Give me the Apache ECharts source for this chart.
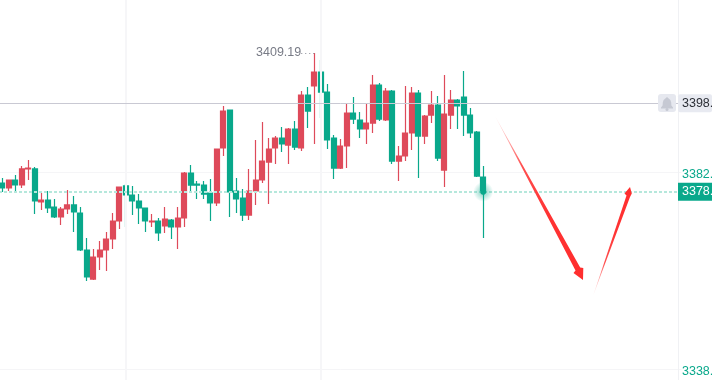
<!DOCTYPE html>
<html>
<head>
<meta charset="utf-8">
<style>
  html, body { margin: 0; padding: 0; background: #fff; overflow: hidden; }
  #chart { width: 712px; height: 380px; }
</style>
<script src="https://cdn.jsdelivr.net/npm/echarts@6/dist/echarts.min.js"></script>
</head>
<body>
<div id="chart"></div>
<script>
const opens = [
  3379.98, 3378.86, 3380.65, 3379.53, 3383.13, 3383.13, 3375.71, 3376.16, 3374.59, 3372.34,
  3374.14, 3375.04, 3373.24, 3364.92, 3358.40, 3363.35, 3364.92, 3367.39, 3371.44, 3379.31,
  3377.28, 3375.93, 3374.36, 3371.21, 3371.44, 3370.32, 3371.66, 3370.09, 3372.11, 3382.22,
  3379.75, 3379.52, 3377.73, 3375.48, 3387.84, 3396.38, 3378.18, 3376.60, 3372.78, 3378.18,
  3380.65, 3384.69, 3387.84, 3390.09, 3388.51, 3392.11, 3387.84, 3399.75, 3401.77, 3404.92,
  3400.42, 3390.08, 3383.34, 3388.29, 3395.70, 3394.13, 3392.11, 3393.45, 3401.99, 3394.13,
  3400.65, 3384.91, 3386.04, 3391.21, 3400.20, 3390.53, 3395.25, 3397.50, 3382.89, 3395.25,
  3398.62, 3399.30, 3395.25, 3391.43, 3381.32
]
const closes = [
  3378.86, 3380.65, 3379.53, 3383.13, 3383.35, 3375.93, 3376.16, 3374.36, 3372.34, 3374.14,
  3375.04, 3373.46, 3364.92, 3358.85, 3363.35, 3364.92, 3367.39, 3371.44, 3379.08, 3377.28,
  3375.93, 3374.36, 3371.44, 3371.44, 3368.74, 3371.89, 3370.09, 3372.11, 3382.22, 3379.52,
  3379.52, 3377.50, 3375.48, 3387.61, 3396.15, 3377.95, 3376.38, 3372.78, 3378.18, 3380.65,
  3384.92, 3387.61, 3390.09, 3388.74, 3392.11, 3388.06, 3399.75, 3396.15, 3404.92, 3400.42,
  3389.64, 3383.34, 3388.29, 3395.70, 3394.35, 3392.11, 3393.45, 3401.99, 3394.35, 3400.65,
  3384.91, 3386.04, 3391.21, 3400.20, 3390.53, 3395.03, 3397.50, 3385.59, 3395.48, 3398.62,
  3397.28, 3395.25, 3391.21, 3381.54, 3378.00
]
const lows = [
  3377.96, 3378.18, 3377.96, 3378.86, 3380.65, 3373.01, 3373.91, 3373.24, 3372.11, 3370.54,
  3373.01, 3368.97, 3364.70, 3357.96, 3358.18, 3360.43, 3360.20, 3365.15, 3369.64, 3370.09,
  3372.79, 3370.77, 3368.97, 3370.09, 3366.94, 3368.74, 3367.39, 3365.15, 3370.09, 3378.18,
  3376.38, 3376.38, 3371.43, 3374.80, 3386.04, 3372.33, 3373.23, 3371.43, 3371.66, 3375.03,
  3379.97, 3375.25, 3384.24, 3386.94, 3384.24, 3387.39, 3387.16, 3392.33, 3388.74, 3394.58,
  3387.61, 3380.87, 3383.12, 3383.34, 3393.23, 3390.08, 3388.74, 3391.21, 3393.90, 3393.90,
  3384.24, 3380.42, 3384.91, 3387.39, 3381.09, 3388.74, 3393.45, 3384.91, 3379.07, 3392.11,
  3392.11, 3390.53, 3390.08, 3381.32, 3367.61
]
const highs = [
  3381.10, 3380.65, 3381.78, 3383.80, 3385.15, 3383.57, 3377.73, 3378.18, 3376.38, 3374.59,
  3378.41, 3377.06, 3374.59, 3367.62, 3365.15, 3366.94, 3368.97, 3373.24, 3379.08, 3379.75,
  3379.31, 3377.51, 3374.36, 3373.01, 3372.11, 3374.59, 3371.89, 3374.59, 3382.45, 3384.02,
  3380.42, 3380.42, 3380.87, 3387.61, 3397.28, 3396.38, 3381.10, 3378.62, 3383.12, 3389.64,
  3393.68, 3390.09, 3390.54, 3392.56, 3392.33, 3393.91, 3400.65, 3401.55, 3409.19, 3407.62,
  3402.22, 3390.76, 3389.86, 3397.72, 3399.30, 3395.93, 3397.72, 3404.24, 3402.44, 3401.32,
  3400.87, 3388.29, 3401.77, 3401.54, 3400.87, 3395.25, 3400.65, 3399.52, 3404.24, 3400.87,
  3398.85, 3405.14, 3396.83, 3391.66, 3383.79
]
const tickValues = [3338.2, 3382.45]
// labels sit a little under their grid lines in the reference
const tickLabelValues = [3337.64, 3381.89]
const highLabel = 3409.19
const crosshairPrice = 3397.9
const lastPrice = 3378.0
const timeGridSlots = [19, 49]
const slotCount = 105

const UP = '#de4a5a'
const DOWN = '#09a88b'
const FONT = 'Liberation Sans'
const FONT_SIZE = 12.5

const slots = Array.from({ length: slotCount }, (_, i) => i)
const candles = opens.map((o, i) => [o, closes[i], lows[i], highs[i]])
const priceTag = (v) => Math.round(v) + '.'

const arrowFill = (x, y, x2, y2) => ({
  type: 'linear',
  global: true,
  x,
  y,
  x2,
  y2,
  colorStops: [
    { offset: 0, color: 'rgba(255,120,120,0.15)' },
    { offset: 0.3, color: '#ff5050' },
    { offset: 0.6, color: '#ff3333' },
    { offset: 1, color: '#ff2e2e' }
  ]
})

const chart = echarts.init(document.getElementById('chart'))
chart.setOption({
  animation: false,
  backgroundColor: '#fff',
  grid: { left: -1, right: 30.5, top: 0, bottom: 0, outerBoundsMode: 'none' },
  xAxis: {
    type: 'category',
    data: slots,
    boundaryGap: true,
    axisLine: { show: false },
    axisTick: { show: false },
    axisLabel: { show: false },
    splitLine: { show: false }
  },
  yAxis: {
    type: 'value',
    position: 'right',
    offset: -3.5,
    min: 3335.71,
    max: 3421.1,
    axisLine: { show: true, lineStyle: { color: '#f0f1f4', width: 1 } },
    axisTick: { show: false, customValues: tickValues },
    axisLabel: {
      customValues: tickLabelValues,
      formatter: priceTag,
      color: DOWN,
      fontFamily: FONT,
      fontSize: FONT_SIZE,
      margin: 4
    },
    splitLine: { show: true, lineStyle: { color: '#f5f5f7', width: 1 } }
  },
  series: [
    {
      // guide lines sit in their own series so the candles paint over them
      type: 'line',
      z: 1,
      data: [],
      symbol: 'none',
      silent: true,
      markLine: {
        silent: true,
        symbol: 'none',
        animation: false,
        data: [
          ...timeGridSlots.map((s) => ({
            xAxis: s,
            label: { show: false },
            lineStyle: { color: '#f6f6f8', width: 2, type: 'solid' }
          })),
          {
            yAxis: crosshairPrice,
            label: {
              show: true,
              position: 'end',
              distance: -3.5,
              formatter: priceTag(crosshairPrice),
              color: '#2c2f36',
              fontFamily: FONT,
              fontSize: FONT_SIZE,
              backgroundColor: '#e8eaf1',
              borderRadius: 2,
              width: 30,
              height: 18,
              lineHeight: 18,
              padding: [0, 0, 0, 4],
              align: 'left'
            },
            lineStyle: { color: '#c9c9d3', width: 1, type: 'solid' }
          },
          {
            yAxis: lastPrice,
            label: {
              show: true,
              position: 'end',
              distance: -3.5,
              formatter: priceTag(lastPrice),
              color: '#fff',
              fontFamily: FONT,
              fontSize: FONT_SIZE,
              backgroundColor: DOWN,
              width: 30,
              height: 18,
              lineHeight: 18,
              padding: [0, 0, 0, 4],
              align: 'left'
            },
            lineStyle: { color: '#b5e8dc', width: 2, type: [3, 2] }
          }
        ]
      }
    },
    {
      type: 'candlestick',
      z: 2,
      barWidth: 5.4,
      data: candles,
      itemStyle: {
        color: UP,
        color0: DOWN,
        borderColor: UP,
        borderColor0: DOWN,
        borderWidth: 1.2
      },
      markLine: {
        silent: true,
        symbol: 'none',
        animation: false,
        lineStyle: { color: '#8a8d97', width: 1, type: [1, 3] },
        label: {
          show: true,
          position: 'start',
          distance: 0,
          formatter: String(highLabel),
          color: '#787b86',
          fontFamily: FONT,
          fontSize: FONT_SIZE
        },
        data: [[{ coord: [46, highLabel] }, { coord: [48, highLabel] }]]
      },
      markPoint: {
        silent: true,
        animation: false,
        symbol: 'circle',
        symbolSize: 20,
        label: { show: false },
        itemStyle: {
          color: {
            type: 'radial',
            x: 0.5,
            y: 0.5,
            r: 0.5,
            colorStops: [
              { offset: 0, color: DOWN },
              { offset: 0.25, color: DOWN },
              { offset: 0.35, color: 'rgba(9,168,139,0.35)' },
              { offset: 1, color: 'rgba(9,168,139,0)' }
            ]
          }
        },
        data: [{ coord: [opens.length - 1, lastPrice] }]
      }
    }
  ],
  graphic: [
    {
      type: 'rect',
      z: 50,
      shape: { x: 658, y: 94, width: 18, height: 18, r: 3 },
      style: { fill: '#e6e8ef' }
    },
    {
      // alert bell
      type: 'polygon',
      z: 51,
      shape: {
        points: [[667, 97], [665.6, 98.2], [663.6, 100], [662.8, 102.5], [662.6, 105.5], [661, 107.6], [661, 108.6], [673, 108.6], [673, 107.6], [671.4, 105.5], [671.2, 102.5], [670.4, 100], [668.4, 98.2]]
      },
      style: { fill: '#c6c9d3' }
    },
    {
      type: 'circle',
      z: 51,
      shape: { cx: 667, cy: 109.6, r: 1.5 },
      style: { fill: '#c6c9d3' }
    },
    {
      type: 'polygon',
      z: 60,
      shape: { points: [[495, 116], [580.2, 267.5], [583.3, 268], [583, 280], [573.5, 273], [575.5, 270.5]] },
      style: { fill: arrowFill(495, 116, 583, 280) }
    },
    {
      type: 'polygon',
      z: 60,
      shape: { points: [[593, 296], [630, 197], [631.8, 193.5], [630, 187], [624.5, 193.5], [626.5, 195.5]] },
      style: { fill: arrowFill(593, 296, 630, 187) }
    }
  ]
})
</script>
</body>
</html>
